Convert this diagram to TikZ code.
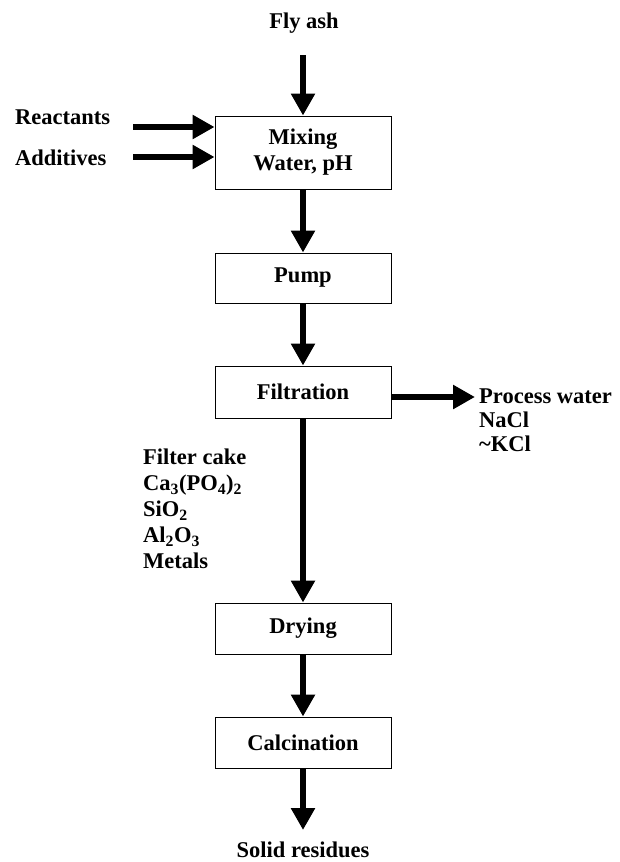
\documentclass[tikz,border=0pt]{standalone}
\usepackage{fontspec}
\setmainfont{Liberation Serif}
\usetikzlibrary{arrows.meta}
\tikzset{
  unitbox/.style={draw, line width=0.9pt, fill=white, minimum width=176pt, inner sep=0pt, align=center},
  flow/.style={->, line width=6pt},
  lbl/.style={inner sep=0pt},
}
\begin{document}
\begin{tikzpicture}[x=1pt, y=-1pt, >={Triangle[width=23pt,length=22pt]},
    font=\bfseries\fontsize{22.5}{26}\selectfont]
  \useasboundingbox (0,0) rectangle (620,862);
  % Process units
  \node[unitbox, minimum height=73pt] (mix) at (303,152.5) {Mixing\\Water, pH};
  \node[unitbox, minimum height=50pt] (pump) at (303,278) {Pump};
  \node[unitbox, minimum height=52pt] (filt) at (303,392) {Filtration};
  \node[unitbox, minimum height=51pt] (dry) at (303,628.5) {Drying};
  \node[unitbox, minimum height=51pt] (calc) at (303,742.5) {Calcination};
  % Inputs
  \node[lbl] (fly) at (304,23) {Fly ash};
  \node[lbl, anchor=west] (reac) at (15,117) {Reactants};
  \node[lbl, anchor=west] (addi) at (15,158) {Additives};
  \coordinate (flytop) at (303,55);
  \coordinate (reacin) at (133,127);
  \coordinate (addiin) at (133,157);
  % Outputs
  \node[lbl, anchor=north west, align=left, font=\bfseries\fontsize{22.5}{24}\selectfont]
    (water) at (479,389) {Process water\\NaCl\\\textasciitilde KCl};
  \node[lbl, anchor=north west, align=left]
    (cake) at (143,449) {Filter cake\\Ca\textsubscript{3}(PO\textsubscript{4})\textsubscript{2}\\SiO\textsubscript{2}\\Al\textsubscript{2}O\textsubscript{3}\\Metals};
  \node[lbl, anchor=base] (solid) at (303,857) {Solid residues};
  \coordinate (waterout) at (475,397);
  \coordinate (solidout) at (303,830);
  % Flow arrows
  \draw[flow] (flytop) -- (mix.north);
  \draw[flow] (reacin) -- (reacin -| mix.west);
  \draw[flow] (addiin) -- (addiin -| mix.west);
  \draw[flow] (mix) -- (pump);
  \draw[flow] (pump) -- (filt);
  \draw[flow] (waterout -| filt.east) -- (waterout);
  \draw[flow] (filt) -- (dry);
  \draw[flow] (dry) -- (calc);
  \draw[flow] (calc.south) -- (solidout);
\end{tikzpicture}
\end{document}
